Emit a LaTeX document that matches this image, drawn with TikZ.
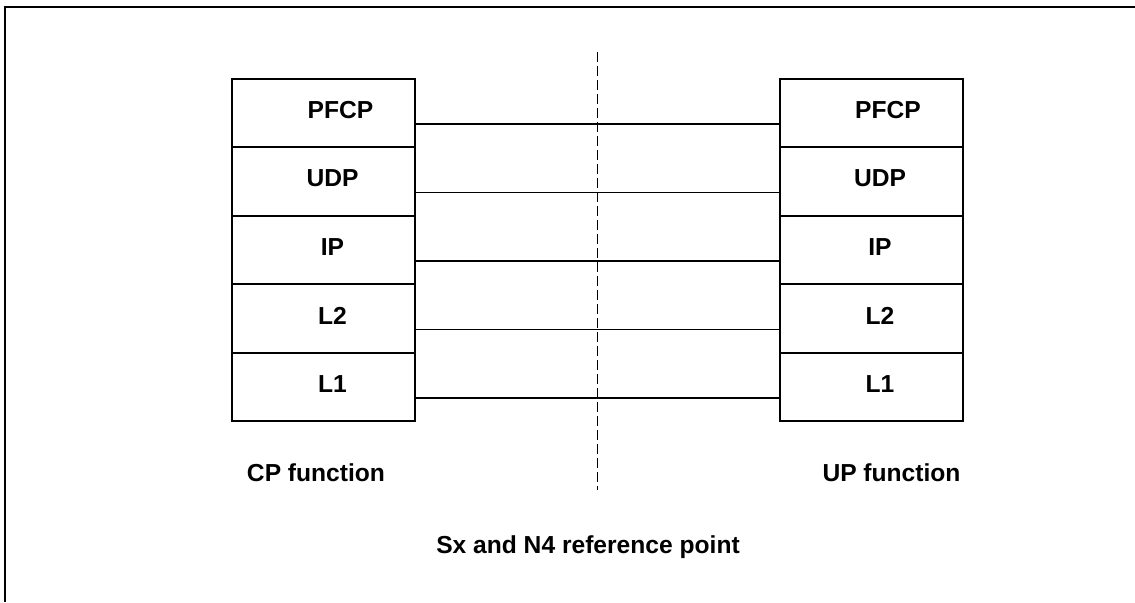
\documentclass[tikz,border=0pt]{standalone}
\usepackage{fontspec}
\setmainfont{Liberation Sans}
\usepackage{tikz}
\usetikzlibrary{positioning}

\begin{document}
\begin{tikzpicture}[x=0.5pt,y=-0.5pt,
    layer/.style={draw, line width=1pt, outer sep=0pt, inner sep=0pt,
        minimum width=91.5pt, minimum height=34.2pt},
    link/.style={line width=0.8pt},
    caption/.style={inner sep=0pt, font=\fontsize{12.3}{14}\selectfont\bfseries}]
    \tikzset{every label/.style={inner sep=0pt, font=\fontsize{12.3}{14}\selectfont\bfseries}}
    \useasboundingbox (0,0) rectangle (1135,602);
    % outer frame
    \draw [line width=1.1pt] (5,602) -- (5,7) -- (1135,7);
    % CP function stack
    \node [layer, label={[xshift=8.5pt,yshift=1.5pt]center:PFCP}] (cpPFCP) at (323.5,113.2) {};
    \node [layer, label={[xshift=4.5pt,yshift=1.5pt]center:UDP}, below=0pt of cpPFCP] (cpUDP) {};
    \node [layer, label={[xshift=4.5pt,yshift=1.5pt]center:IP}, below=0pt of cpUDP] (cpIP) {};
    \node [layer, label={[xshift=4.5pt,yshift=1.5pt]center:L2}, below=0pt of cpIP] (cpLtwo) {};
    \node [layer, label={[xshift=4.5pt,yshift=1.5pt]center:L1}, below=0pt of cpLtwo] (cpLone) {};
    % UP function stack
    \node [layer, label={[xshift=8.5pt,yshift=1.5pt]center:PFCP}] (upPFCP) at (871,113.2) {};
    \node [layer, label={[xshift=4.5pt,yshift=1.5pt]center:UDP}, below=0pt of upPFCP] (upUDP) {};
    \node [layer, label={[xshift=4.5pt,yshift=1.5pt]center:IP}, below=0pt of upUDP] (upIP) {};
    \node [layer, label={[xshift=4.5pt,yshift=1.5pt]center:L2}, below=0pt of upIP] (upLtwo) {};
    \node [layer, label={[xshift=4.5pt,yshift=1.5pt]center:L1}, below=0pt of upLtwo] (upLone) {};
    % peer links
    \draw [link] ([yshift=-5.5pt]cpPFCP.east) -- ([yshift=-5.5pt]upPFCP.west);
    \draw [link] ([yshift=-5.5pt]cpUDP.east) -- ([yshift=-5.5pt]upUDP.west);
    \draw [link] ([yshift=-5.5pt]cpIP.east) -- ([yshift=-5.5pt]upIP.west);
    \draw [link] ([yshift=-5.5pt]cpLtwo.east) -- ([yshift=-5.5pt]upLtwo.west);
    \draw [link] ([yshift=-5.5pt]cpLone.east) -- ([yshift=-5.5pt]upLone.west);
    % reference point
    \coordinate (refTop) at (597.5,52);
    \coordinate (refBot) at (597.5,490);
    \draw [line width=0.6pt, dash pattern=on 5pt off 2pt] (refTop) -- (refBot);
    % captions
    \node [caption] (cpName) at (316,473) {CP function};
    \node [caption] (upName) at (891.5,473) {UP function};
    \node [caption] (refName) at (588,547) {Sx and N4 reference point};
\end{tikzpicture}
\end{document}
